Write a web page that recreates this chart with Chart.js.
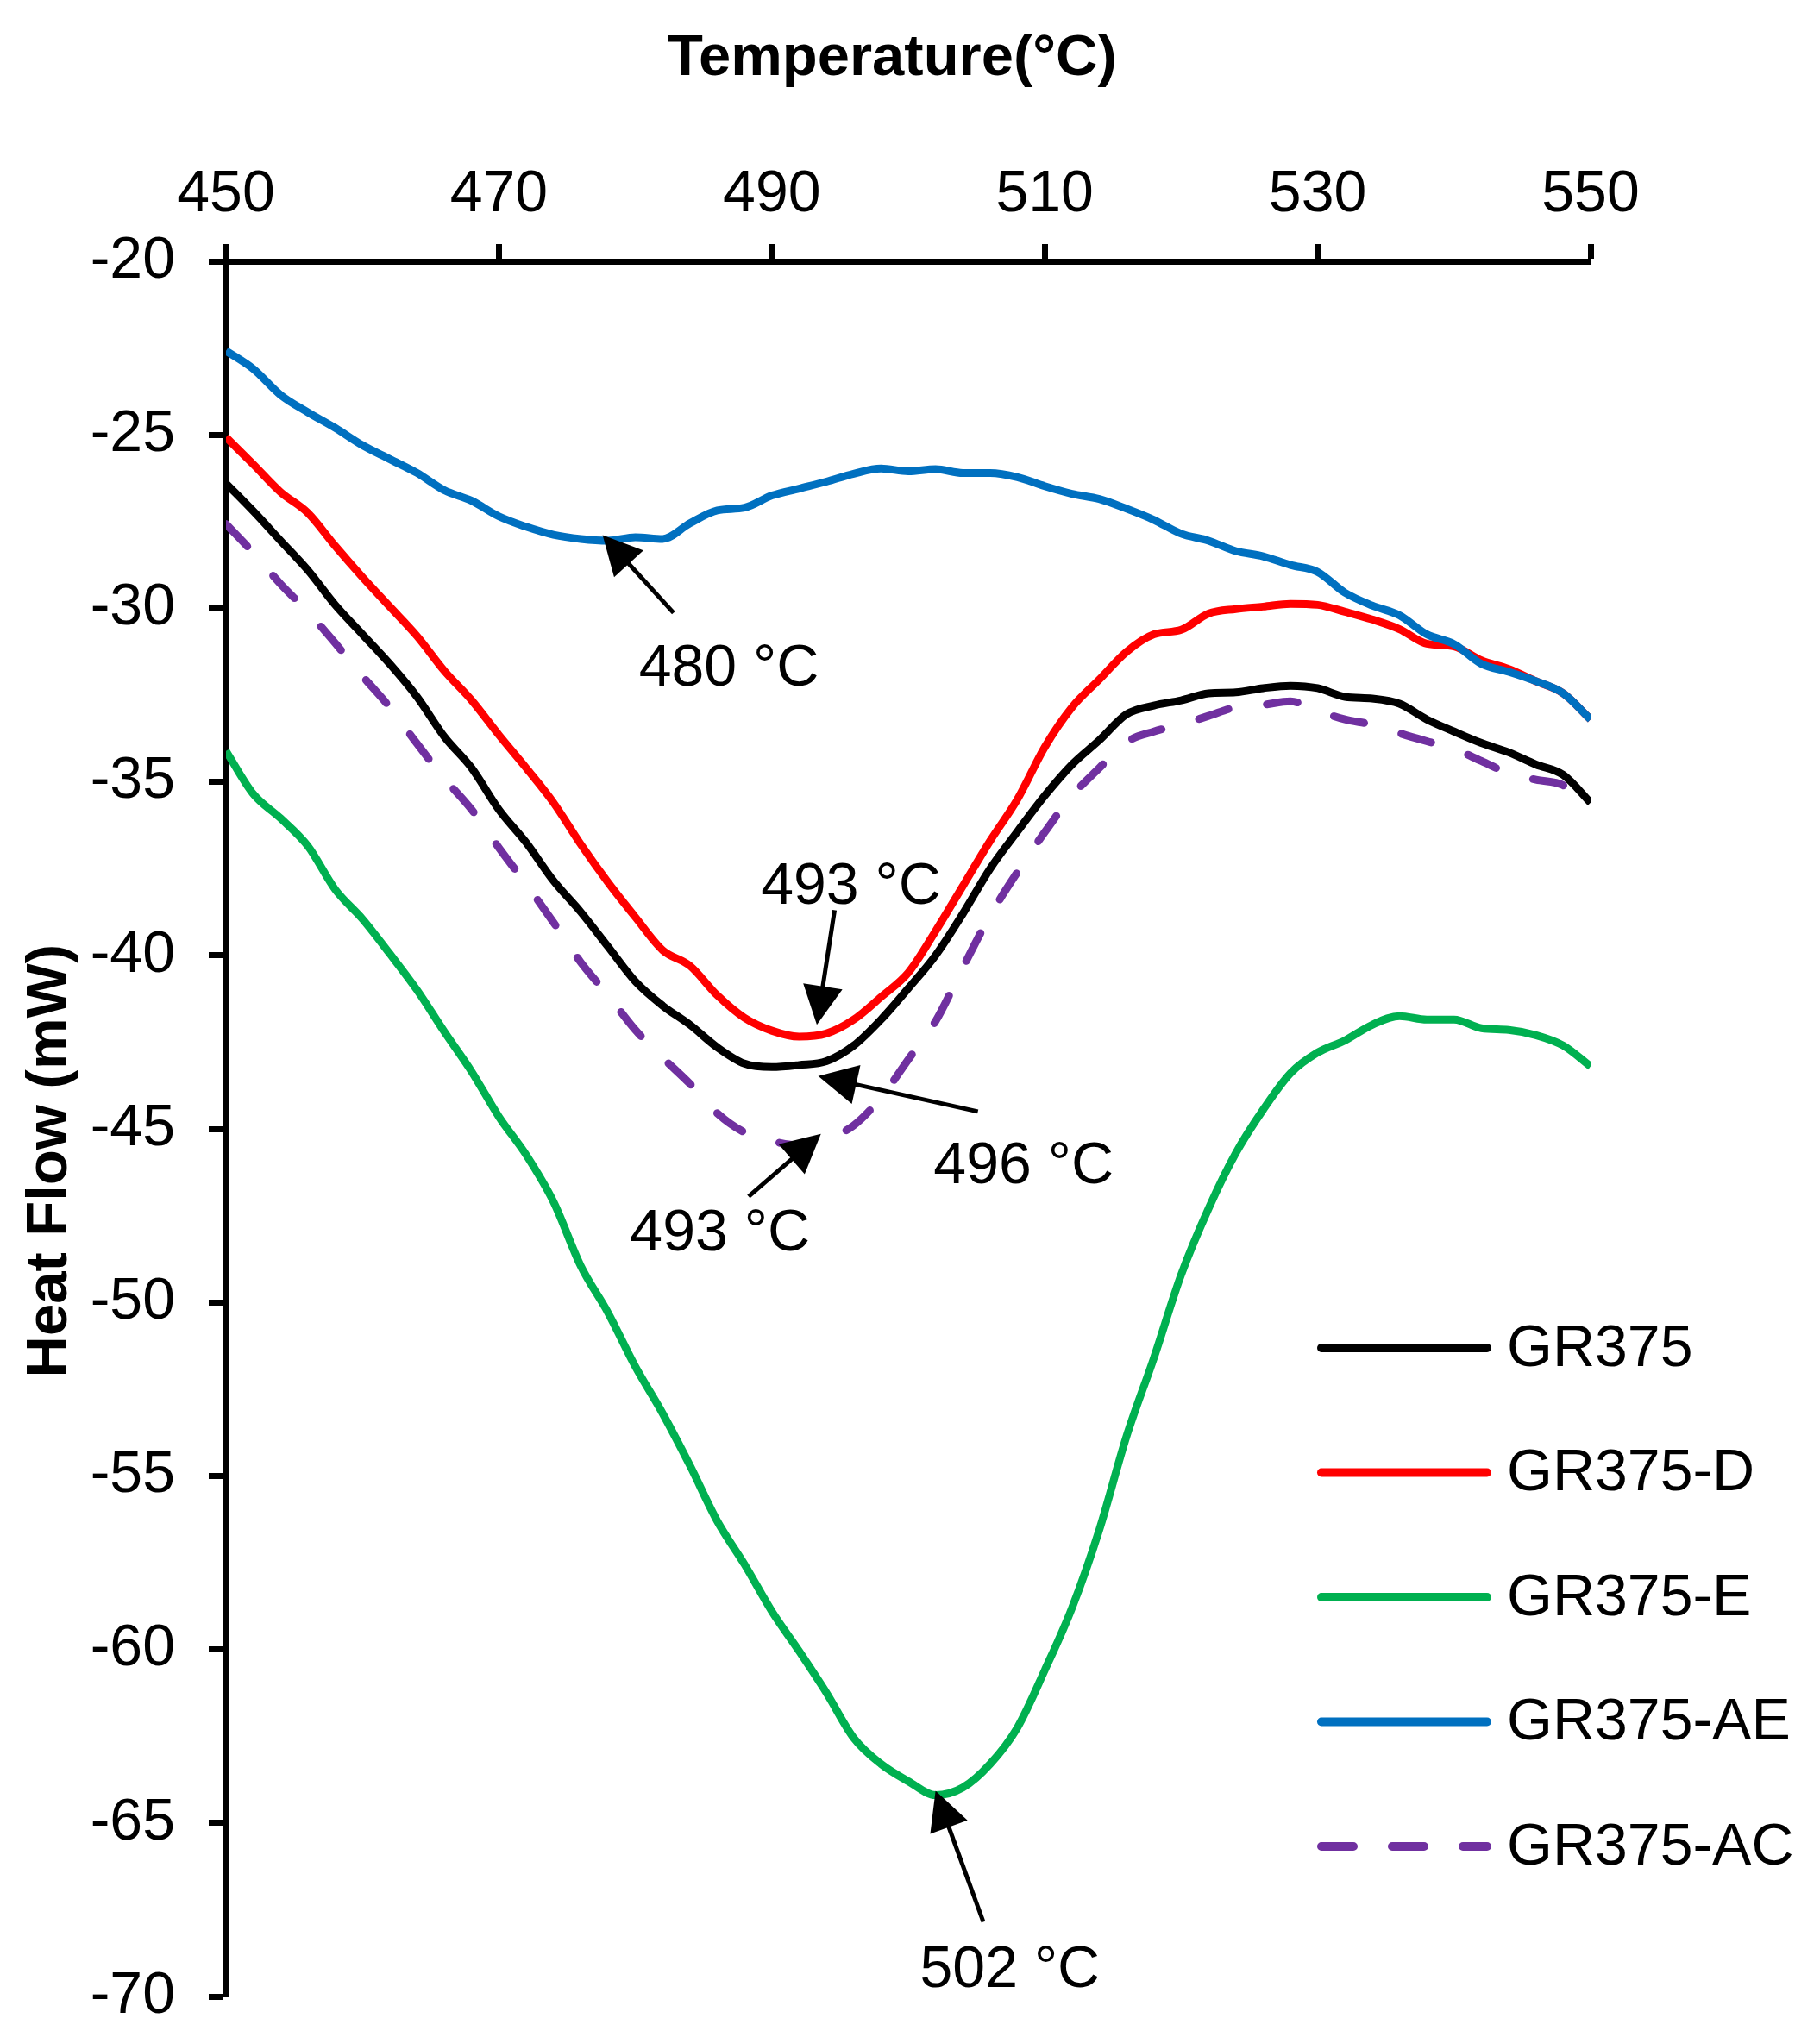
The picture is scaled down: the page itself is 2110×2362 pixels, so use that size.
<!DOCTYPE html>
<html>
<head>
<meta charset="utf-8">
<title>Heat Flow vs Temperature</title>
<script src="https://cdn.jsdelivr.net/npm/chart.js@4.4.1/dist/chart.umd.min.js"></script>
<style>
  body { margin: 0; background: #ffffff; }
  #wrap { width: 2110px; height: 2362px; }
</style>
</head>
<body>
<div id="wrap"><canvas id="myChart" width="2110" height="2362"></canvas></div>
<script>
// temperature (°C), every 2 degrees
const temperature = [450, 452, 454, 456, 458, 460, 462, 464, 466, 468,
    470, 472, 474, 476, 478, 480, 482, 484, 486, 488,
    490, 492, 494, 496, 498, 500, 502, 504, 506, 508,
    510, 512, 514, 516, 518, 520, 522, 524, 526, 528,
    530, 532, 534, 536, 538, 540, 542, 544, 546, 548, 550];

// heat flow (mW)
const gr375 = [-26.4, -27.2, -28.05, -28.9, -29.9, -30.75, -31.6, -32.55, -33.7, -34.6,
    -35.8, -36.75, -37.85, -38.75, -39.75, -40.75, -41.45, -42.0, -42.65, -43.12,
    -43.22, -43.16, -43.05, -42.6, -41.85, -40.95, -40.0, -38.8, -37.5, -36.43,
    -35.4, -34.5, -33.8, -33.05, -32.8, -32.65, -32.45, -32.42, -32.3, -32.23,
    -32.3, -32.55, -32.6, -32.75, -33.2, -33.55, -33.88, -34.15, -34.5, -34.8, -35.6];

const gr375D = [-25.07, -25.85, -26.65, -27.25, -28.2, -29.1, -29.95, -30.8, -31.8, -32.65,
    -33.65, -34.6, -35.6, -36.8, -37.9, -38.9, -39.85, -40.3, -41.15, -41.8,
    -42.17, -42.34, -42.25, -41.85, -41.2, -40.5, -39.3, -38.0, -36.7, -35.5,
    -34.0, -32.85, -32.05, -31.25, -30.75, -30.62, -30.15, -30.02, -29.95, -29.87,
    -29.9, -30.1, -30.32, -30.6, -31.02, -31.1, -31.5, -31.75, -32.1, -32.45, -33.2];

const gr375E = [-34.11, -35.35, -36.05, -36.85, -38.1, -38.95, -39.95, -41.0, -42.2, -43.35,
    -44.65, -45.75, -47.1, -48.95, -50.3, -51.85, -53.2, -54.7, -56.3, -57.55,
    -58.9, -60.05, -61.25, -62.55, -63.3, -63.8, -64.2, -63.98, -63.3, -62.25,
    -60.6, -58.8, -56.55, -53.85, -51.6, -49.2, -47.3, -45.7, -44.45, -43.4,
    -42.8, -42.45, -42.0, -41.75, -41.85, -41.85, -42.1, -42.15, -42.3, -42.6, -43.2];

const gr375AE = [-22.58, -23.1, -23.85, -24.35, -24.8, -25.3, -25.7, -26.1, -26.6, -26.9,
    -27.35, -27.65, -27.88, -28.0, -28.05, -27.95, -28.0, -27.55, -27.18, -27.1,
    -26.75, -26.55, -26.35, -26.12, -25.97, -26.05, -25.99, -26.1, -26.1, -26.22,
    -26.48, -26.7, -26.85, -27.13, -27.45, -27.85, -28.05, -28.35, -28.5, -28.75,
    -28.95, -29.55, -29.92, -30.2, -30.75, -31.03, -31.6, -31.83, -32.1, -32.45, -33.2];

const gr375AC = [-27.57, -28.4, -29.3, -30.1, -31.0, -31.95, -32.85, -33.9, -34.9, -35.8,
    -36.9, -37.95, -39.05, -40.2, -41.15, -42.15, -42.95, -43.7, -44.55, -45.1,
    -45.35, -45.47, -45.3, -44.9, -44.1, -43.0, -41.9, -40.35, -38.85, -37.6,
    -36.45, -35.4, -34.6, -33.85, -33.55, -33.35, -33.1, -32.85, -32.78, -32.68,
    -32.95, -33.2, -33.35, -33.6, -33.83, -34.05, -34.4, -34.75, -34.94, -35.1, -35.75];

const seriesNames = ['GR375', 'GR375-D', 'GR375-E', 'GR375-AE', 'GR375-AC'];
const seriesColors = ['#000000', '#ff0000', '#00b050', '#0070c0', '#7030a0'];

// peak labels: text position, arrow tail, arrow tip (all in data units)
const peakLabels = ['480 °C', '493 °C', '496 °C', '493 °C', '502 °C'];
const peakText = [[486.85, -31.75], [495.8, -38.05], [508.45, -46.1], [486.2, -48.05], [507.45, -69.25]];
const peakTail = [[482.8, -30.13], [494.6, -38.7], [505.1, -44.5], [488.3, -46.95], [505.5, -67.85]];
const peakTip = [[477.6, -27.89], [493.3, -42.0], [493.4, -43.48], [493.6, -45.14], [502.0, -64.07]];

const xTicks = [450, 470, 490, 510, 530, 550];
const yTicks = [-20, -25, -30, -35, -40, -45, -50, -55, -60, -65, -70];

const FONT = "'Liberation Sans', Arial, sans-serif";

function toPoints(values) {
    return values.map((v, i) => ({x: temperature[i], y: v}));
}

const allValues = [gr375, gr375D, gr375E, gr375AE, gr375AC];
const drawOrder = [1, 3, 4, 2, 5];

const datasets = allValues.map((vals, i) => ({
    label: seriesNames[i],
    data: toPoints(vals),
    borderColor: seriesColors[i],
    backgroundColor: seriesColors[i],
    borderWidth: 9,
    borderDash: i === 4 ? [36, 45] : [],
    borderCapStyle: i === 4 ? 'round' : 'butt',
    borderJoinStyle: 'round',
    pointRadius: 0,
    cubicInterpolationMode: 'monotone',
    order: drawOrder[i]
}));

function drawArrow(ctx, x1, y1, x2, y2) {
    const ang = Math.atan2(y2 - y1, x2 - x1);
    const headLen = 45, headW = 23;
    const bx = x2 - headLen * Math.cos(ang);
    const by = y2 - headLen * Math.sin(ang);
    ctx.beginPath();
    ctx.moveTo(x1, y1);
    ctx.lineTo(bx + 2 * Math.cos(ang), by + 2 * Math.sin(ang));
    ctx.stroke();
    ctx.beginPath();
    ctx.moveTo(x2, y2);
    ctx.lineTo(bx + headW * Math.sin(ang), by - headW * Math.cos(ang));
    ctx.lineTo(bx - headW * Math.sin(ang), by + headW * Math.cos(ang));
    ctx.closePath();
    ctx.fill();
}

const peakPlugin = {
    id: 'peakArrows',
    afterDatasetsDraw(chart) {
        const ctx = chart.ctx;
        const xs = chart.scales.x, ys = chart.scales.y;
        ctx.save();
        ctx.strokeStyle = '#000';
        ctx.fillStyle = '#000';
        ctx.lineWidth = 5;
        ctx.font = '68px ' + FONT;
        ctx.textAlign = 'center';
        ctx.textBaseline = 'middle';
        for (let i = 0; i < peakLabels.length; i++) {
            drawArrow(ctx,
                xs.getPixelForValue(peakTail[i][0]), ys.getPixelForValue(peakTail[i][1]),
                xs.getPixelForValue(peakTip[i][0]), ys.getPixelForValue(peakTip[i][1]));
            ctx.fillText(peakLabels[i], xs.getPixelForValue(peakText[i][0]), ys.getPixelForValue(peakText[i][1]));
        }
        ctx.restore();
    }
};

const legendPlugin = {
    id: 'insideLegend',
    afterDraw(chart) {
        const ctx = chart.ctx;
        ctx.save();
        ctx.font = '68px ' + FONT;
        ctx.textAlign = 'left';
        ctx.textBaseline = 'middle';
        chart.data.datasets.forEach((ds, i) => {
            const y = 1563 + i * 144.5;
            ctx.strokeStyle = ds.borderColor;
            ctx.lineWidth = 10;
            ctx.lineCap = 'round';
            ctx.setLineDash(i === 4 ? [37, 45] : []);
            ctx.beginPath();
            ctx.moveTo(1532, y);
            ctx.lineTo(1724, y);
            ctx.stroke();
            ctx.setLineDash([]);
            ctx.fillStyle = '#000';
            ctx.fillText(ds.label, 1747, y + 2);
        });
        ctx.restore();
    }
};

const config = {
    type: 'line',
    data: {datasets: datasets},
    options: {
        responsive: false,
        devicePixelRatio: 1,
        animation: false,
        events: [],
        layout: {padding: {left: 0, top: 0, right: 266, bottom: 47}},
        plugins: {legend: {display: false}, tooltip: {enabled: false}},
        scales: {
            x: {
                type: 'linear',
                position: 'top',
                min: 450,
                max: 550,
                afterBuildTicks: s => { s.ticks = xTicks.map(v => ({value: v})); },
                afterFit: s => { s.height = 303; s.paddingLeft = 0; s.paddingRight = 0; },
                grid: {drawOnChartArea: false, drawTicks: true, tickLength: 20, tickWidth: 7, tickColor: '#000'},
                border: {display: true, width: 7, color: '#000'},
                ticks: {color: '#000', font: {family: FONT, size: 68}, padding: 16, maxRotation: 0},
                title: {display: true, text: 'Temperature(°C)  ', color: '#000',
                    font: {family: FONT, size: 67, weight: 'bold'}, padding: {top: 28, bottom: 0}}
            },
            y: {
                min: -70,
                max: -20,
                afterBuildTicks: s => { s.ticks = yTicks.map(v => ({value: v})); },
                afterFit: s => { s.width = 262; s.paddingTop = 0; s.paddingBottom = 0; },
                grid: {drawOnChartArea: false, drawTicks: true, tickLength: 20, tickWidth: 7, tickColor: '#000'},
                border: {display: true, width: 7, color: '#000'},
                ticks: {color: '#000', font: {family: FONT, size: 68}, padding: 39},
                title: {display: true, text: 'Heat Flow (mW)    ', color: '#000',
                    font: {family: FONT, size: 67, weight: 'bold'}, padding: {top: 18, bottom: 0}}
            }
        }
    },
    plugins: [peakPlugin, legendPlugin]
};

const myChart = new Chart(document.getElementById('myChart'), config);
</script>
</body>
</html>
